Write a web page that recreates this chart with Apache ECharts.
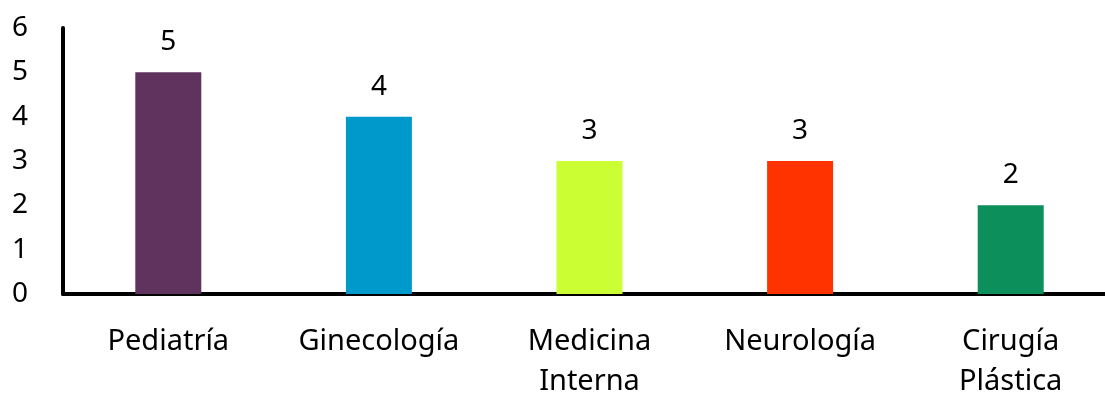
<!DOCTYPE html>
<html>
<head>
<meta charset="utf-8">
<script src="https://cdn.jsdelivr.net/npm/echarts@6/dist/echarts.min.js"></script>
<style>
  html, body { margin: 0; padding: 0; background: #fff; }
  #chart { width: 1105px; height: 393px; }
</style>
</head>
<body>
<div id="chart"></div>
<script>
// Especialidades y número de casos
const categories = ['Pediatría', 'Ginecología', 'Medicina\nInterna', 'Neurología', 'Cirugía\nPlástica'];
const values = [5, 4, 3, 3, 2];
const barColors = ['#60325E', '#0099CC', '#CCFF33', '#FF3300', '#0C8F5A'];
const yTicks = [0, 1, 2, 3, 4, 5, 6];

const FONT = '"Noto Sans", "Open Sans", sans-serif';

const chart = echarts.init(document.getElementById('chart'), null, { renderer: 'canvas' });
chart.setOption({
  animation: false,
  grid: {
    left: 63, top: 28, width: 1053, height: 266,
    containLabel: false, outerBoundsMode: 'none'
  },
  xAxis: {
    type: 'category',
    data: categories,
    axisLine: { lineStyle: { color: '#000', width: 4 } },
    axisTick: { show: false },
    axisLabel: {
      color: '#000', fontSize: 29, fontFamily: FONT,
      margin: 28, lineHeight: 40, interval: 0
    }
  },
  yAxis: {
    type: 'value',
    min: yTicks[0],
    max: yTicks[yTicks.length - 1],
    interval: 1,
    splitLine: { show: false },
    axisLine: { show: true, lineStyle: { color: '#000', width: 4 } },
    axisTick: { show: false },
    axisLabel: { color: '#000', fontSize: 28, fontFamily: FONT, margin: 35 }
  },
  series: [{
    type: 'bar',
    barWidth: 66,
    data: values.map((v, i) => ({ value: v, itemStyle: { color: barColors[i] } })),
    label: {
      show: true, position: 'top', distance: 16,
      color: '#000', fontSize: 28, fontFamily: FONT
    }
  }]
});
</script>
</body>
</html>
